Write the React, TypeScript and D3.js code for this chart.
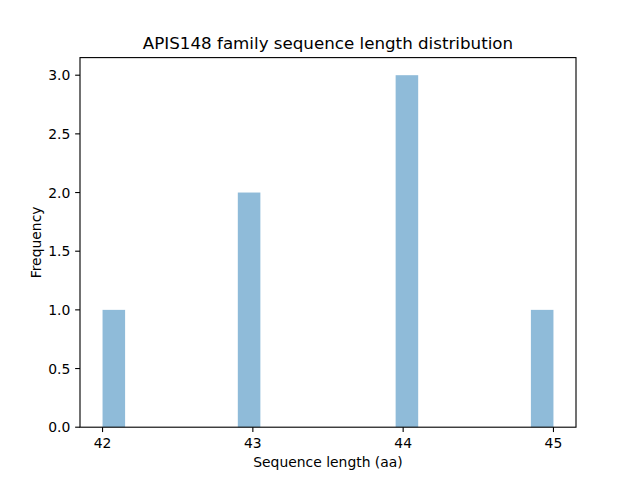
import React from "react";
import * as d3 from "d3";

const sequenceLengths = [42, 43, 43, 44, 44, 44, 45];
const binCount = 20;
const yTicks = [0, 0.5, 1.0, 1.5, 2.0, 2.5, 3.0];
const xTicks = [42, 43, 44, 45];
const title = "APIS148 family sequence length distribution";
const xLabel = "Sequence length (aa)";
const yLabel = "Frequency";

export default function App() {
  const W = 640, H = 480;
  const left = 80, right = 576, top = 57.6, bottom = 427.2;
  const [mn, mx] = d3.extent(sequenceLengths) as [number, number];
  const step = (mx - mn) / binCount;
  const thresholds = d3.range(1, binCount).map((i) => mn + i * step);
  const bins = d3.bin().domain([mn, mx]).thresholds(thresholds)(sequenceLengths);
  const pad = (mx - mn) * 0.05;
  const x = d3.scaleLinear().domain([mn - pad, mx + pad]).range([left, right]);
  const maxCount = d3.max(bins, (b) => b.length) as number;
  const y = d3.scaleLinear().domain([0, maxCount * 1.05]).range([bottom, top]);
  const font = "DejaVu Sans, sans-serif";
  const tickLen = 4.86;
  const fs = 13.9;
  return (
    <svg width={W} height={H} style={{ position: "absolute", left: 0, top: 0 }} fontFamily={font}>
      <rect width={W} height={H} fill="white" />
      {bins.map((b, i) => (
        <rect
          key={i}
          x={x(b.x0 as number)}
          width={x(b.x1 as number) - x(b.x0 as number)}
          y={y(b.length)}
          height={y(0) - y(b.length)}
          fill="#1f77b4"
          fillOpacity={0.5}
        />
      ))}
      <rect x={left} y={top} width={right - left} height={bottom - top} fill="none" stroke="black" strokeWidth={1.11} />
      {xTicks.map((t) => (
        <g key={t}>
          <line x1={x(t)} x2={x(t)} y1={bottom} y2={bottom + tickLen} stroke="black" strokeWidth={1.11} />
          <text x={x(t)} y={bottom + 2 * tickLen + 10.6} textAnchor="middle" fontSize={fs}>
            {t}
          </text>
        </g>
      ))}
      {yTicks.map((t) => (
        <g key={t}>
          <line x1={left - tickLen} x2={left} y1={y(t)} y2={y(t)} stroke="black" strokeWidth={1.11} />
          <text x={left - 2 * tickLen} y={y(t) + 5} textAnchor="end" fontSize={fs}>
            {t.toFixed(1)}
          </text>
        </g>
      ))}
      <text x={(left + right) / 2} y={467} textAnchor="middle" fontSize={fs}>
        {xLabel}
      </text>
      <text transform={`translate(40.5, ${(top + bottom) / 2}) rotate(-90)`} textAnchor="middle" fontSize={fs}>
        {yLabel}
      </text>
      <text x={(left + right) / 2} y={49.3} textAnchor="middle" fontSize={16.7}>
        {title}
      </text>
    </svg>
  );
}
